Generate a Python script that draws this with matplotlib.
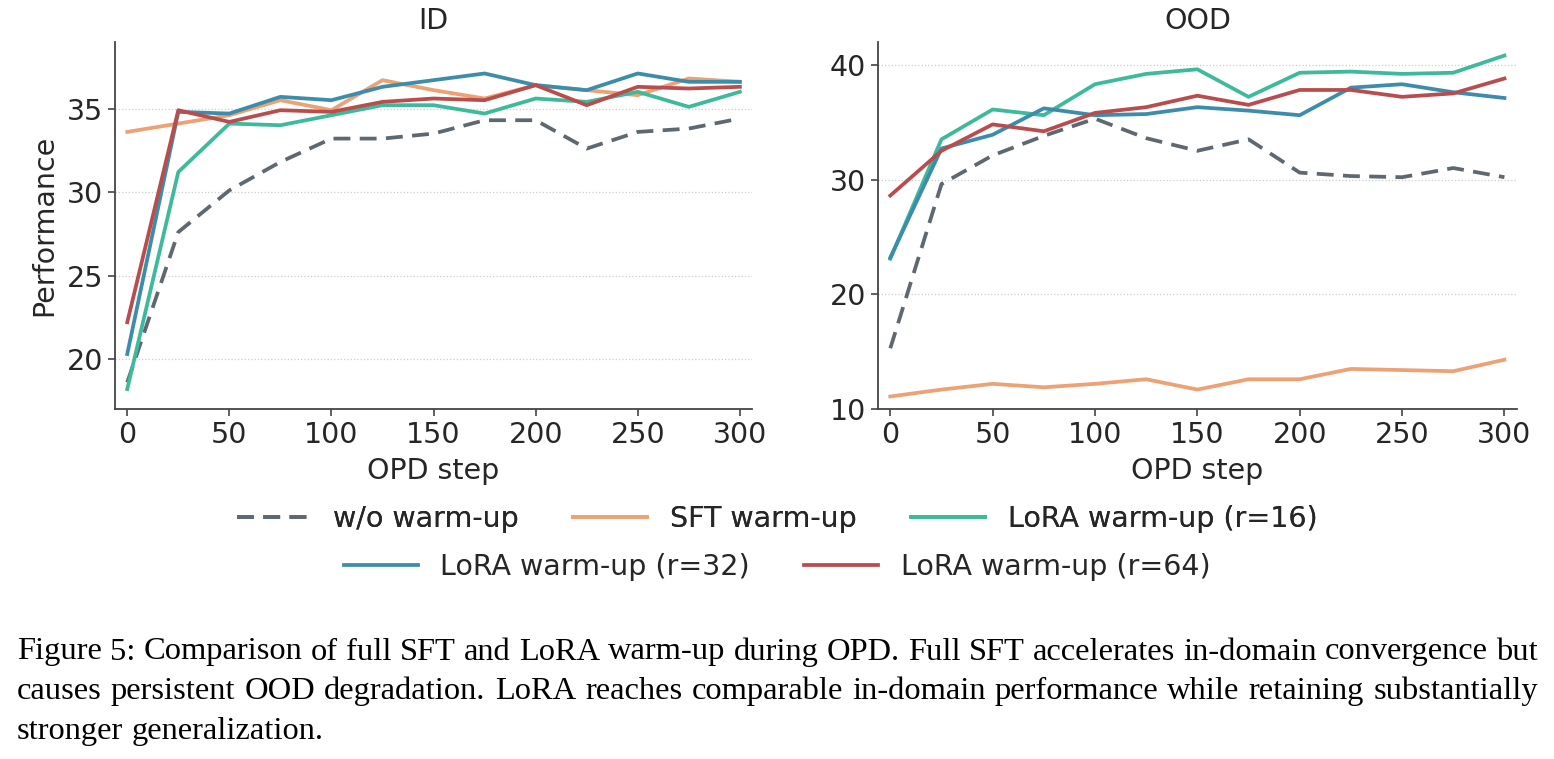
import numpy as np
import matplotlib
matplotlib.use('Agg')
import matplotlib.pyplot as plt

steps = [0, 25, 50, 75, 100, 125, 150, 175, 200, 225, 250, 275, 300]

labels = ['w/o warm-up', 'SFT warm-up', 'LoRA warm-up (r=16)',
          'LoRA warm-up (r=32)', 'LoRA warm-up (r=64)']
colors = ['#5d6870', '#eca274', '#3dba9b', '#3c8dab', '#b94d4d']

id_base = [18.6, 27.6, 30.1, 31.8, 33.2, 33.2, 33.5, 34.3, 34.3, 32.6, 33.6, 33.8, 34.4]
id_sft = [33.6, 34.1, 34.6, 35.5, 34.9, 36.7, 36.1, 35.6, 36.4, 36.1, 35.8, 36.8, 36.6]
id_r16 = [18.2, 31.2, 34.1, 34.0, 34.6, 35.2, 35.2, 34.7, 35.6, 35.4, 36.0, 35.1, 36.0]
id_r32 = [20.3, 34.8, 34.7, 35.7, 35.5, 36.3, 36.7, 37.1, 36.4, 36.1, 37.1, 36.6, 36.6]
id_r64 = [22.2, 34.9, 34.2, 34.9, 34.8, 35.4, 35.6, 35.5, 36.4, 35.2, 36.3, 36.2, 36.3]

ood_base = [15.3, 29.6, 32.1, 33.8, 35.3, 33.6, 32.5, 33.5, 30.6, 30.3, 30.2, 31.0, 30.2]
ood_sft = [11.1, 11.7, 12.2, 11.9, 12.2, 12.6, 11.7, 12.6, 12.6, 13.5, 13.4, 13.3, 14.3]
ood_r16 = [23.1, 33.5, 36.1, 35.6, 38.3, 39.2, 39.6, 37.2, 39.3, 39.4, 39.2, 39.3, 40.8]
ood_r32 = [23.2, 32.7, 33.9, 36.2, 35.6, 35.7, 36.3, 36.0, 35.6, 38.0, 38.3, 37.6, 37.1]
ood_r64 = [28.6, 32.5, 34.8, 34.2, 35.8, 36.3, 37.3, 36.5, 37.8, 37.8, 37.2, 37.5, 38.8]

id_series = [id_base, id_sft, id_r16, id_r32, id_r64]
ood_series = [ood_base, ood_sft, ood_r16, ood_r32, ood_r64]

caption = [
    'Figure 5: Comparison of full SFT and LoRA warm-up during OPD. Full SFT accelerates in-domain convergence but',
    'causes persistent OOD degradation. LoRA reaches comparable in-domain performance while retaining substantially',
    'stronger generalization.',
]

plt.rcParams['font.family'] = 'DejaVu Sans'
txt = '#262626'
fs = 20.5

fig = plt.figure(figsize=(15.54, 7.59), dpi=100)
ax1 = fig.add_axes([0.074, 0.461, 0.410, 0.484])
ax2 = fig.add_axes([0.565, 0.461, 0.411, 0.484])

lines = []
for ax, series, title, ylim, yt in [
        (ax1, id_series, 'ID', (17, 39), [20, 25, 30, 35]),
        (ax2, ood_series, 'OOD', (10, 42), [10, 20, 30, 40])]:
    lines = []
    for i, s in enumerate(series):
        ls = (0, (4.5, 2.5)) if i == 0 else '-'
        l, = ax.plot(steps, s, color=colors[i], lw=2.7, ls=ls, label=labels[i])
        lines.append(l)
    ax.set_xlim(-6, 306)
    ax.set_ylim(*ylim)
    ax.set_yticks(yt)
    ax.set_xticks([0, 50, 100, 150, 200, 250, 300])
    ax.grid(axis='y', ls=':', color='#cccccc', lw=0.9)
    ax.set_axisbelow(True)
    for sp in ['top', 'right']:
        ax.spines[sp].set_visible(False)
    for sp in ['left', 'bottom']:
        ax.spines[sp].set_color('#444444')
        ax.spines[sp].set_linewidth(1.3)
    ax.tick_params(labelsize=fs, colors='#444444', labelcolor=txt, length=5, width=1.2)
    ax.set_title(title, fontsize=fs, color=txt, pad=9)
    ax.set_xlabel('OPD step', fontsize=fs, color=txt, labelpad=6)

ax1.set_ylabel('Performance', fontsize=fs, color=txt, labelpad=6)

leg1 = fig.legend(lines[:3], labels[:3], loc='center', bbox_to_anchor=(0.5, 1 - 519 / 759),
                  ncol=3, frameon=False, fontsize=fs, handlelength=2.6,
                  handletextpad=0.8, columnspacing=1.9)
fig.add_artist(leg1)
leg2 = fig.legend(lines[3:], labels[3:], loc='center', bbox_to_anchor=(0.5, 1 - 567 / 759),
                  ncol=2, frameon=False, fontsize=fs, handlelength=2.6,
                  handletextpad=0.8, columnspacing=1.9)
for leg in (leg1, leg2):
    for t in leg.get_texts():
        t.set_color(txt)

# caption, justified like the paper text
W, H = 1554, 759
x0, x1 = 17, 1538
cap_fs = 23.4
r = fig.canvas.get_renderer()


def word_widths(words, size):
    out = []
    for w in words:
        t = fig.text(0, 0, w, fontsize=size, family='Liberation Serif')
        out.append(t.get_window_extent(r).width)
        t.remove()
    return out


sp = fig.text(0, 0, 'a b', fontsize=cap_fs, family='Liberation Serif')
ab = fig.text(0, 0, 'ab', fontsize=cap_fs, family='Liberation Serif')
space_w = sp.get_window_extent(r).width - ab.get_window_extent(r).width
sp.remove()
ab.remove()

for k, line in enumerate(caption):
    words = line.split(' ')
    ww = word_widths(words, cap_fs)
    y = 1 - (652 + 39.5 * k) / H
    if k < len(caption) - 1:
        gap = (x1 - x0 - sum(ww)) / (len(words) - 1)
    else:
        gap = space_w
    x = x0
    for w, wd in zip(words, ww):
        fig.text(x / W, y, w, fontsize=cap_fs, family='Liberation Serif',
                 color='black', ha='left', va='center')
        x += wd + gap

fig.savefig('out.png', dpi=100)
